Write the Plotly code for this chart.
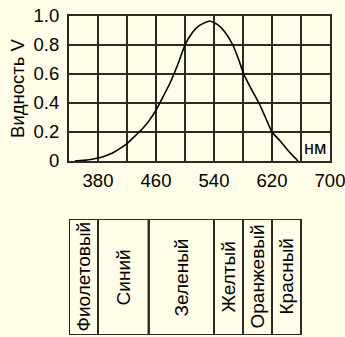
import plotly.graph_objects as go

# Spectral luminous efficiency curve
wavelength_nm = [348, 360, 370, 380, 390, 400, 410, 420, 431, 440, 450, 460, 470, 480, 490,
                 500, 510, 520, 534, 545, 555, 566, 574, 581, 590, 602, 611, 620, 631, 640,
                 650, 656]
visibility = [0.0, 0.004, 0.01, 0.02, 0.035, 0.055, 0.085, 0.12, 0.172, 0.215, 0.275, 0.35,
              0.445, 0.545, 0.665, 0.8, 0.885, 0.935, 0.965, 0.94, 0.89, 0.8, 0.70, 0.6,
              0.51, 0.4, 0.3, 0.2, 0.14, 0.085, 0.03, 0.0]

x_grid = [340, 380, 420, 460, 500, 540, 580, 620, 660, 700]
x_labels = ["", "380", "", "460", "", "540", "", "620", "", "700"]
y_ticks = [0, 0.2, 0.4, 0.6, 0.8, 1.0]
y_labels = ["0", "0.2", "0.4", "0.6", "0.8", "1.0"]

band_edges = [340, 380, 450, 540, 580, 620, 660]
band_names = ["Фиолетовый", "Синий", "Зеленый", "Желтый", "Оранжевый", "Красный"]

BG = "#FFFDE7"
LINE = "#2b2b22"
FONT = "Liberation Sans, Arial, sans-serif"

fig = go.Figure()
fig.add_trace(go.Scatter(x=wavelength_nm, y=visibility, mode="lines",
                         line=dict(color="black", width=1.6, shape="spline", smoothing=0.5),
                         xaxis="x", yaxis="y", hoverinfo="skip", showlegend=False))

shapes = []
annotations = []
for i, name in enumerate(band_names):
    x0, x1 = band_edges[i], band_edges[i + 1]
    shapes.append(dict(type="rect", xref="x2", yref="y2", x0=x0, x1=x1, y0=0, y1=1,
                       line=dict(color=LINE, width=2)))
    annotations.append(dict(xref="x2", yref="y2", x=(x0 + x1) / 2, y=0.5, text=name,
                            textangle=-90, showarrow=False,
                            font=dict(family=FONT, size=19, color="black")))

annotations.append(dict(xref="x", yref="y", x=679, y=0.09, text="нм", showarrow=False,
                        font=dict(family=FONT, size=18, color="black")))

fig.update_layout(
    width=345, height=337,
    margin=dict(l=69, r=15, t=16, b=2),
    paper_bgcolor=BG, plot_bgcolor=BG,
    font=dict(family=FONT, size=18, color="black"),
    showlegend=False,
    xaxis=dict(domain=[0, 1], range=[340, 700], tickvals=x_grid, ticktext=x_labels,
               showgrid=True, gridcolor=LINE, gridwidth=2, zeroline=False,
               showline=True, linecolor=LINE, linewidth=2, mirror=True,
               ticks="outside", ticklen=2, tickcolor="rgba(0,0,0,0)",
               tickfont=dict(size=18.5), anchor="y", fixedrange=True,
               automargin=False, ticklabeloverflow="allow"),
    yaxis=dict(domain=[0.5455, 1], range=[0, 1], tickvals=y_ticks, ticktext=y_labels,
               showgrid=True, gridcolor=LINE, gridwidth=2, zeroline=False,
               showline=True, linecolor=LINE, linewidth=2, mirror=True,
               ticks="outside", ticklen=4, tickcolor="rgba(0,0,0,0)",
               tickfont=dict(size=18.5), anchor="x", automargin=False,
               ticklabeloverflow="allow",
               title=dict(text="Видность V", font=dict(size=18.5), standoff=4), fixedrange=True),
    xaxis2=dict(domain=[0, 1], range=[340, 700], visible=False, anchor="y2", fixedrange=True),
    yaxis2=dict(domain=[0, 0.3636], range=[0, 1], visible=False, anchor="x2", fixedrange=True),
    shapes=shapes,
    annotations=annotations,
)

fig.write_html("out.html", config={"displayModeBar": False},
               post_script="document.body.style.margin='0';document.body.style.overflow='hidden';")
